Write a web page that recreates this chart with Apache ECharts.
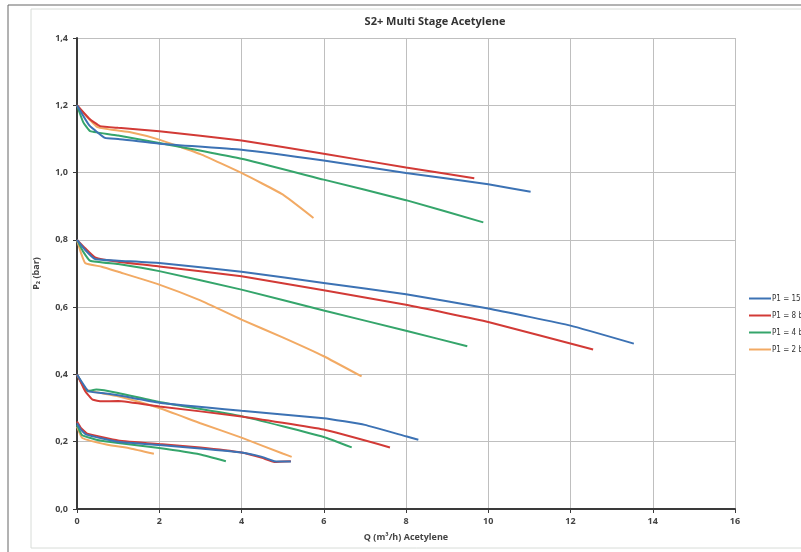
<!DOCTYPE html>
<html>
<head>
<meta charset="utf-8">
<style>
  html, body { margin: 0; padding: 0; background: #ffffff; }
  #chart { width: 801px; height: 552px; }
</style>
<script src="https://cdn.jsdelivr.net/npm/echarts@6/dist/echarts.min.js"></script>
</head>
<body>
<div id="chart"></div>
<script>
// Regulator outlet pressure P2 (bar) against acetylene flow Q (m³/h),
// four inlet pressures, each measured at four outlet settings.
const seriesNames = ['P1 = 15 bar', 'P1 = 8 bar', 'P1 = 4 bar', 'P1 = 2 bar'];
const seriesColors = ['#3c72b4', '#d23a36', '#35a56b', '#f2aa64'];

const xTicks = [0, 2, 4, 6, 8, 10, 12, 14, 16];
const yTicks = [0, 0.2, 0.4, 0.6, 0.8, 1.0, 1.2, 1.4];

// P1 = 15 bar
const p15_set12 = [[0,1.2],[0.3,1.14],[0.68,1.103],[1,1.1],[2,1.086],[4,1.068],[6,1.036],[8,0.999],[10,0.965],[11.03,0.943]];
const p15_set08 = [[0,0.8],[0.2,0.77],[0.44,0.743],[1,0.738],[2,0.731],[4,0.705],[6,0.672],[8,0.638],[10,0.596],[12,0.545],[13.54,0.4915]];
const p15_set04 = [[0,0.4],[0.28,0.35],[0.6,0.345],[1,0.338],[2,0.316],[4,0.292],[6,0.27],[7,0.25],[8,0.216],[8.3,0.206]];
const p15_set025 = [[0,0.255],[0.1,0.235],[0.23,0.221],[1,0.2],[2,0.19],[3,0.18],[4,0.168],[4.5,0.155],[4.8,0.142],[5.2,0.141]];

// P1 = 8 bar
const p8_set12 = [[0,1.2],[0.3,1.16],[0.56,1.138],[1,1.133],[2,1.123],[4,1.095],[6,1.056],[8,1.015],[9.66,0.983]];
const p8_set08 = [[0,0.8],[0.2,0.775],[0.44,0.748],[1,0.735],[2,0.721],[4,0.692],[6,0.65],[8,0.607],[10,0.556],[12.55,0.474]];
const p8_set04 = [[0,0.4],[0.2,0.35],[0.38,0.325],[0.6,0.32],[1,0.321],[2,0.305],[4,0.275],[6,0.236],[7.61,0.183]];
const p8_set025 = [[0,0.26],[0.1,0.24],[0.25,0.224],[1,0.204],[2,0.193],[3,0.183],[4,0.168],[4.5,0.152],[4.8,0.14],[5.2,0.142]];

// P1 = 4 bar
const p4_set12 = [[0,1.2],[0.15,1.15],[0.32,1.123],[1,1.11],[2,1.088],[4,1.041],[6,0.979],[8,0.918],[9.88,0.852]];
const p4_set08 = [[0,0.8],[0.15,0.765],[0.32,0.738],[1,0.728],[2,0.707],[4,0.652],[6,0.59],[8,0.53],[9.49,0.4835]];
const p4_set04 = [[0,0.4],[0.26,0.35],[0.47,0.355],[1,0.345],[2,0.318],[4,0.276],[6,0.214],[6.68,0.183]];
const p4_set025 = [[0,0.25],[0.12,0.22],[0.5,0.205],[1,0.196],[2,0.181],[3,0.162],[3.62,0.142]];

// P1 = 2 bar
const p2_set12 = [[0,1.2],[0.5,1.135],[1.3,1.12],[2,1.098],[3,1.055],[4,0.999],[5,0.935],[5.75,0.865]];
const p2_set08 = [[0,0.8],[0.1,0.76],[0.2,0.731],[0.6,0.72],[1,0.705],[2,0.667],[3,0.62],[4,0.563],[5,0.51],[6,0.454],[6.92,0.394]];
const p2_set04 = [[0,0.4],[0.22,0.355],[1,0.335],[2,0.3],[3,0.255],[4,0.212],[5,0.165],[5.22,0.155]];
const p2_set025 = [[0,0.245],[0.13,0.211],[0.74,0.191],[1.3,0.18],[1.87,0.164]];

const curveGroups = [
  [p15_set12, p15_set08, p15_set04, p15_set025],
  [p8_set12, p8_set08, p8_set04, p8_set025],
  [p4_set12, p4_set08, p4_set04, p4_set025],
  [p2_set12, p2_set08, p2_set04, p2_set025]
];

const series = [];
curveGroups.forEach(function (curves, i) {
  curves.forEach(function (pts) {
    series.push({
      name: seriesNames[i],
      type: 'line',
      data: pts,
      showSymbol: false,
      symbol: 'none',
      smooth: 0.12,
      lineStyle: { color: seriesColors[i], width: 2 },
      itemStyle: { color: seriesColors[i] },
      emphasis: { disabled: true },
      z: 3 + (3 - i)
    });
  });
});

const chart = echarts.init(document.getElementById('chart'), null, { renderer: 'canvas' });
const labelFont = '"Open Sans", "Liberation Sans", sans-serif';

chart.setOption({
  animation: false,
  backgroundColor: '#ffffff',
  title: {
    text: 'S2+ Multi Stage Acetylene',
    left: 430,
    textAlign: 'center',
    top: 11,
    textStyle: { fontSize: 11, fontWeight: 'bold', color: '#333', fontFamily: labelFont }
  },
  legend: {
    data: seriesNames.map(function (n, i) { return { name: n, itemStyle: { color: seriesColors[i] } }; }),
    orient: 'vertical',
    left: 744,
    top: 288,
    icon: 'rect',
    itemWidth: 22,
    itemHeight: 2,
    itemGap: 6,
    textStyle: {
      fontSize: 8, color: '#333', lineHeight: 11,
      fontFamily: '"Liberation Sans Narrow", "DejaVu Sans Condensed", "Liberation Sans", sans-serif',
      padding: [0, 0, 0, -4]
    }
  },
  graphic: [
    { type: 'rect', shape: { x: 8, y: 5, width: 820, height: 560 }, style: { fill: 'none', stroke: '#666', lineWidth: 1 }, silent: true, z: -10 },
    { type: 'rect', shape: { x: 31, y: 9, width: 800, height: 539 }, style: { fill: 'none', stroke: '#d8dcd8', lineWidth: 1 }, silent: true, z: -10 }
  ],
  grid: { left: 77, right: 66, top: 38, bottom: 43 },
  xAxis: {
    type: 'value',
    min: xTicks[0],
    max: xTicks[xTicks.length - 1],
    interval: 2,
    name: 'Q (m³/h) Acetylene',
    nameLocation: 'middle',
    nameGap: 24,
    nameTextStyle: { fontSize: 9, fontWeight: 'bold', color: '#444', fontFamily: labelFont },
    axisLine: { show: true, onZero: false, lineStyle: { color: '#3a3a3a', width: 2 } },
    axisTick: { show: true, length: 4, lineStyle: { color: '#3a3a3a' } },
    axisLabel: { fontSize: 9, fontWeight: 'bold', color: '#444', margin: 8, fontFamily: labelFont },
    splitLine: { show: true, lineStyle: { color: '#bfbfbf', width: 1 } }
  },
  yAxis: {
    type: 'value',
    min: yTicks[0],
    max: yTicks[yTicks.length - 1],
    interval: 0.2,
    name: 'P₂ (bar)',
    nameLocation: 'middle',
    nameGap: 36,
    nameRotate: 90,
    nameTextStyle: { fontSize: 9, fontWeight: 'bold', color: '#444', fontFamily: labelFont, padding: [0, 0, 0, 0] },
    axisLine: { show: true, onZero: false, lineStyle: { color: '#3a3a3a', width: 2 } },
    axisTick: { show: true, length: 4, lineStyle: { color: '#3a3a3a' } },
    axisLabel: {
      fontSize: 9, fontWeight: 'bold', color: '#444', margin: 9, fontFamily: labelFont,
      formatter: function (v) { return v.toFixed(1).replace('.', ','); }
    },
    splitLine: { show: true, lineStyle: { color: '#bfbfbf', width: 1 } }
  },
  series: series
});
</script>
</body>
</html>
